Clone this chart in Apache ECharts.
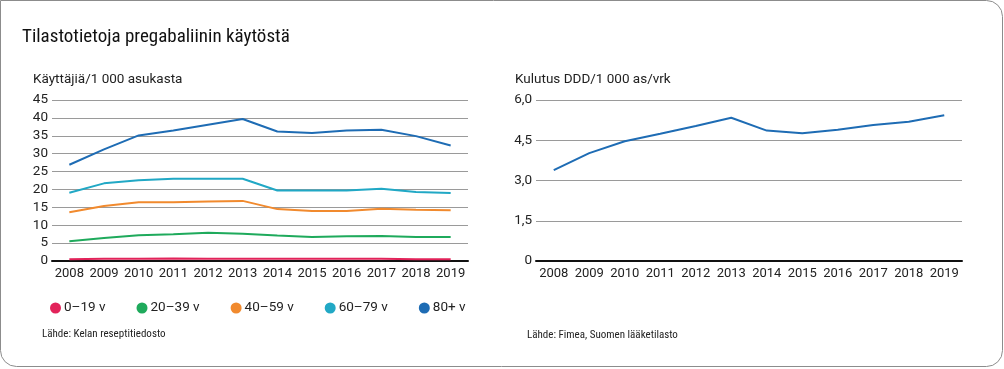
<!DOCTYPE html>
<html>
<head>
<meta charset="utf-8">
<script src="https://cdn.jsdelivr.net/npm/echarts@6/dist/echarts.min.js"></script>
<style>
html,body{margin:0;padding:0;background:#fff;}
#c{width:1004px;height:369px;}
</style>
</head>
<body>
<div id="c"></div>
<script>
const years = ['2008','2009','2010','2011','2012','2013','2014','2015','2016','2017','2018','2019'];
const ageGroups = ['0–19 v','20–39 v','40–59 v','60–79 v','80+ v'];
const users_0_19  = [0.5, 0.6, 0.6, 0.7, 0.6, 0.6, 0.6, 0.6, 0.6, 0.6, 0.5, 0.5];
const users_20_39 = [5.5, 6.4, 7.2, 7.5, 7.9, 7.6, 7.1, 6.7, 6.9, 7.0, 6.7, 6.7];
const users_40_59 = [13.6, 15.4, 16.4, 16.4, 16.6, 16.8, 14.5, 14.0, 14.0, 14.6, 14.3, 14.2];
const users_60_79 = [19.1, 21.7, 22.6, 23.0, 23.0, 23.0, 19.7, 19.7, 19.7, 20.2, 19.3, 19.0];
const users_80    = [26.9, 31.2, 35.1, 36.5, 38.1, 39.7, 36.2, 35.8, 36.5, 36.7, 34.9, 32.3];
const consumption = [3.39, 4.02, 4.46, 4.74, 5.03, 5.34, 4.86, 4.76, 4.89, 5.07, 5.19, 5.43];
const leftTicks = {min: 0, max: 45, interval: 5};
const rightTicks = {min: 0, max: 6, interval: 1.5};
const colors = ['#e2235a', '#1faa5c', '#f18a2e', '#21a8c5', '#1e6cb4'];

const FONT = 'Roboto, "Open Sans", sans-serif';
const NARROW = '"Liberation Sans Narrow", "Roboto Condensed", Roboto, sans-serif';
const chart = echarts.init(document.getElementById('c'), null, {renderer: 'canvas'});

const xAxisBase = (gridIndex) => ({
  type: 'category', gridIndex, data: years, boundaryGap: true,
  axisTick: {show: false},
  axisLine: {lineStyle: {color: '#111', width: 2}},
  axisLabel: {color: '#222', fontSize: 13, fontFamily: FONT, margin: 6, interval: 0}
});
const yAxisBase = (gridIndex, t, fmt) => ({
  type: 'value', gridIndex, min: t.min, max: t.max, interval: t.interval,
  axisLine: {show: false}, axisTick: {show: false},
  splitLine: {lineStyle: {color: '#9a9a9a', width: 1}},
  axisLabel: {color: '#222', fontSize: 13.5, fontFamily: FONT, margin: 4, formatter: fmt}
});

const userSeries = [users_0_19, users_20_39, users_40_59, users_60_79, users_80];
const series = userSeries.map((d, i) => ({
  name: ageGroups[i], type: 'line', xAxisIndex: 0, yAxisIndex: 0, data: d,
  symbol: 'none', lineStyle: {width: 2, color: colors[i]}, itemStyle: {color: colors[i]}, z: 3
})).reverse();
series.push({
  name: 'Kulutus', type: 'line', xAxisIndex: 1, yAxisIndex: 1, data: consumption,
  symbol: 'none', lineStyle: {width: 2, color: '#1e6cb4'}, itemStyle: {color: '#1e6cb4'}
});

chart.setOption({
  animation: false,
  grid: [
    {left: 52, top: 100, width: 416, height: 161},
    {left: 536, top: 100, width: 426, height: 161}
  ],
  xAxis: [xAxisBase(0), xAxisBase(1)],
  yAxis: [
    yAxisBase(0, leftTicks, v => String(v)),
    yAxisBase(1, rightTicks, v => v === 0 ? '0' : v.toFixed(1).replace('.', ','))
  ],
  legend: {
    data: ageGroups, left: 45, top: 296, icon: 'circle', itemWidth: 11, itemHeight: 11,
    itemGap: 31, textStyle: {color: '#222', fontSize: 13.5, fontFamily: FONT, padding: [0, 0, 0, -2]}
  },
  series,
  graphic: [
    {type: 'rect', silent: true, shape: {x: 0.5, y: 0.5, width: 1002, height: 366, r: [0, 16, 16, 16]},
     style: {fill: 'none', stroke: '#8c8c8c', lineWidth: 1}},
    {type: 'text', left: 22, top: 28, style: {text: 'Tilastotietoja pregabaliinin käytöstä', fontSize: 19, fontFamily: NARROW, fill: '#111'}},
    {type: 'text', left: 33, top: 73, style: {text: 'Käyttäjiä/1 000 asukasta', fontSize: 13.5, fontFamily: FONT, fill: '#222'}},
    {type: 'text', left: 515, top: 73, style: {text: 'Kulutus DDD/1 000 as/vrk', fontSize: 13.5, fontFamily: FONT, fill: '#222'}},
    {type: 'text', left: 42, top: 329, style: {text: 'Lähde: Kelan reseptitiedosto', fontSize: 11, fontFamily: NARROW, fill: '#222'}},
    {type: 'text', left: 527, top: 330, style: {text: 'Lähde: Fimea, Suomen lääketilasto', fontSize: 11, fontFamily: NARROW, fill: '#222'}}
  ]
});
</script>
</body>
</html>
